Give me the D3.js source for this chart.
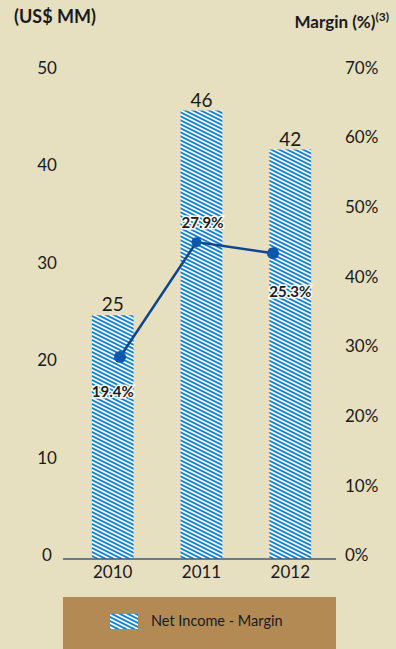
<!DOCTYPE html>
<html>
<head>
<meta charset="utf-8">
<script src="https://cdn.jsdelivr.net/npm/d3@7"></script>
<style>
  html, body { margin: 0; padding: 0; background: #e6dfc0; }
  svg { display: block; font-family: Lato, "Open Sans", sans-serif; }
</style>
</head>
<body>
<svg id="chart" width="396" height="649"></svg>
<script>
// chart data
var years = ["2010", "2011", "2012"];
var netIncome = [25, 46, 42];
var marginLabels = ["19.4%", "27.9%", "25.3%"];
// heights at which the reference places the margin markers (on the % axis)
var marginPlotted = [29.0, 45.5, 43.9];
var leftTicks = [0, 10, 20, 30, 40, 50];
var rightTicks = [0, 10, 20, 30, 40, 50, 60, 70];

var svg = d3.select("#chart");
var baseY = 559, topY = 71.5;

//scales
var x = d3.scaleBand().domain(years).range([67, 336]).paddingInner(0.53).paddingOuter(0.28);
var xLine = d3.scalePoint().domain(years).range([120, 273]);
var yLeft = d3.scaleLinear().domain([0, 50]).range([baseY, topY]);
var yRight = d3.scaleLinear().domain([0, 70]).range([baseY, topY]);

//hatch pattern for the bars
var pat = svg.append("defs").append("pattern")
    .attr("id", "hatch")
    .attr("patternUnits", "userSpaceOnUse")
    .attr("width", 8).attr("height", 4);
pat.append("rect").attr("width", 8).attr("height", 4).attr("fill", "#0f7fd4");
pat.append("path").attr("d", "M-4,-2 L12,6 M-4,2 L4,6 M4,-2 L12,2")
    .attr("stroke", "#fff").attr("stroke-width", 1.7);

//titles
svg.append("text").attr("x", 14).attr("y", 23)
    .attr("font-size", 18).attr("font-weight", "bold").attr("fill", "#1a1a1a")
    .text("(US$ MM)");
var mt = svg.append("text").attr("x", 389).attr("y", 28).attr("text-anchor", "end")
    .attr("font-size", 17).attr("font-weight", "bold").attr("fill", "#1a1a1a");
mt.append("tspan").text("Margin (%)");
mt.append("tspan").attr("font-size", 12).attr("dy", -7).text("(3)");

//left axis
var axL = svg.append("g").attr("transform", "translate(47,0)")
    .call(d3.axisLeft(yLeft).tickValues(leftTicks).tickSize(0).tickPadding(0));
axL.select(".domain").remove();
axL.selectAll("text").attr("text-anchor", "middle").attr("dy", "0.1em")
    .attr("font-size", 17).attr("font-family", "Lato, sans-serif").attr("fill", "#1a1a1a");

//right axis
var axR = svg.append("g").attr("transform", "translate(345,0)")
    .call(d3.axisRight(yRight).tickValues(rightTicks).tickSize(0).tickPadding(0)
        .tickFormat(function(d) { return d + "%"; }));
axR.select(".domain").remove();
axR.selectAll("text").attr("dy", "0.1em")
    .attr("font-size", 17).attr("font-family", "Lato, sans-serif").attr("fill", "#1a1a1a");

//bars
svg.selectAll("rect.bar").data(netIncome).enter().append("rect")
    .attr("class", "bar")
    .attr("x", function(d, i) { return x(years[i]); })
    .attr("y", function(d) { return yLeft(d); })
    .attr("width", x.bandwidth())
    .attr("height", function(d) { return baseY - yLeft(d); })
    .attr("fill", "url(#hatch)");

svg.selectAll("text.val").data(netIncome).enter().append("text")
    .attr("class", "val")
    .attr("x", function(d, i) { return x(years[i]) + x.bandwidth() / 2; })
    .attr("y", function(d) { return yLeft(d) - 4; })
    .attr("text-anchor", "middle").attr("font-size", 19).attr("fill", "#1a1a1a")
    .text(function(d) { return d; });

//x axis line + labels
svg.append("line").attr("x1", 63).attr("x2", 336).attr("y1", baseY).attr("y2", baseY)
    .attr("stroke", "#3f5a73").attr("stroke-width", 1.5);
var axB = svg.append("g").attr("transform", "translate(0," + baseY + ")")
    .call(d3.axisBottom(x).tickSize(0).tickPadding(7));
axB.select(".domain").remove();
axB.selectAll("text").attr("font-size", 17).attr("font-family", "Lato, sans-serif")
    .attr("fill", "#1a1a1a");

//margin line
var line = d3.line()
    .x(function(d, i) { return xLine(years[i]); })
    .y(function(d) { return yRight(d); });
svg.append("path").datum(marginPlotted).attr("d", line)
    .attr("fill", "none").attr("stroke", "#0d4592").attr("stroke-width", 2.5);
svg.selectAll("circle.pt").data(marginPlotted).enter().append("circle")
    .attr("class", "pt")
    .attr("cx", function(d, i) { return xLine(years[i]); })
    .attr("cy", function(d) { return yRight(d); })
    .attr("r", function(d, i) { return i === 1 ? 5 : 6; })
    .attr("fill", "#0b57ab");

//margin labels (white halo)
var labelDy = [40, -14, 44];
svg.selectAll("text.mlab").data(marginLabels).enter().append("text")
    .attr("class", "mlab")
    .attr("x", function(d, i) { return x(years[i]) + x.bandwidth() / 2 + (i === 1 ? 1 : 0); })
    .attr("y", function(d, i) { return yRight(marginPlotted[i]) + labelDy[i]; })
    .attr("text-anchor", "middle").attr("font-size", 15).attr("font-weight", "bold")
    .attr("fill", "#1a1a1a").attr("stroke", "#fff").attr("stroke-width", 3)
    .attr("paint-order", "stroke")
    .text(function(d) { return d; });

//legend
svg.append("rect").attr("x", 63).attr("y", 597).attr("width", 273).attr("height", 52)
    .attr("fill", "#b38a53");
svg.append("rect").attr("x", 110).attr("y", 614).attr("width", 28).attr("height", 15)
    .attr("fill", "url(#hatch)");
svg.append("text").attr("x", 151).attr("y", 626).attr("font-size", 14.5)
    .attr("fill", "#1a1a1a").text("Net Income - Margin");
</script>
</body>
</html>
